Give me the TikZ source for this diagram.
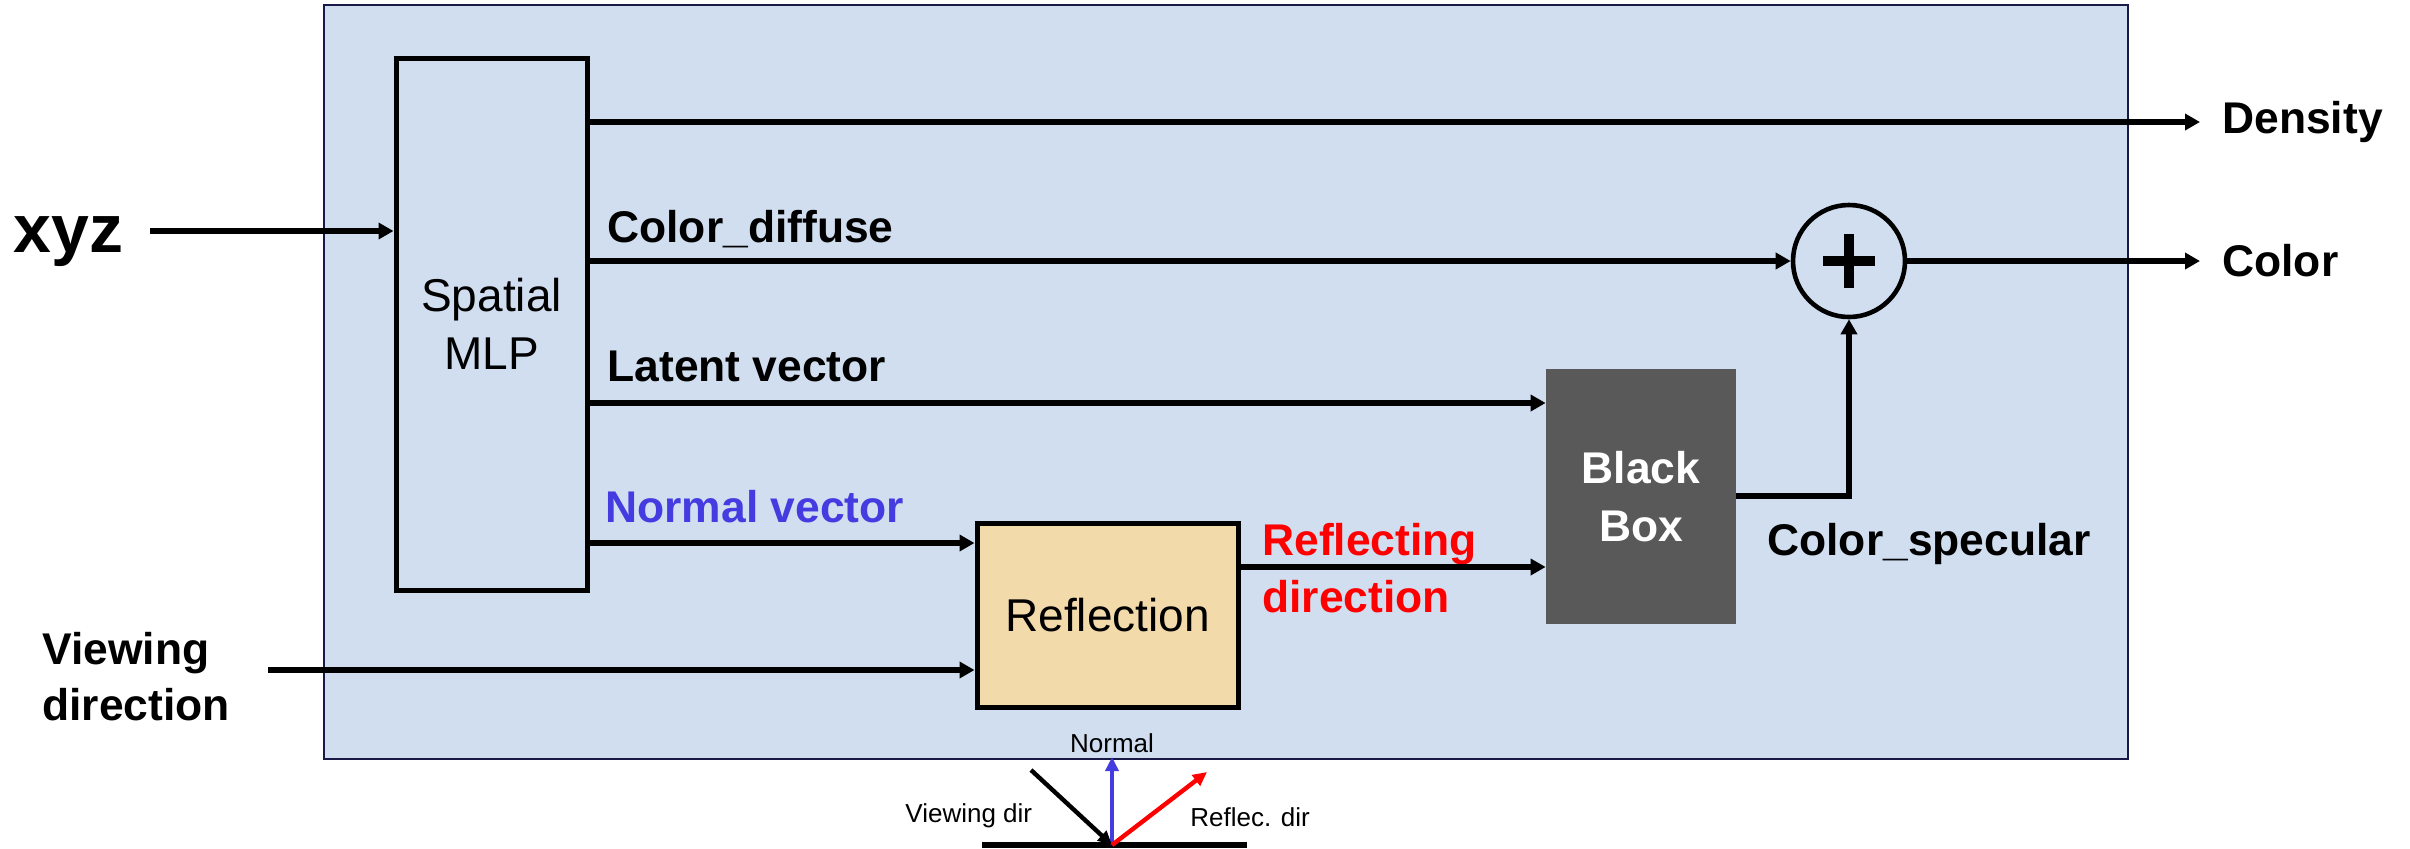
\documentclass[tikz,border=0pt]{standalone}
\usepackage{fontspec}
\setmainfont{Liberation Sans}
\usetikzlibrary{arrows.meta}

\definecolor{panelfill}{RGB}{208,222,240}
\definecolor{panelline}{RGB}{25,25,70}
\definecolor{normalblue}{RGB}{68,60,224}
\definecolor{reflfill}{RGB}{242,218,170}
\definecolor{boxgray}{RGB}{89,89,89}

\begin{document}
\begin{tikzpicture}[x=0.5pt,y=-0.5pt,
  conn/.style={line width=2.8pt,-{Triangle[length=7.5pt,width=8pt]}},
  insetarrow/.style={line width=2.2pt,-{Triangle[length=7pt,width=6.5pt]}},
  blockbox/.style={draw,line width=2.5pt,inner sep=0pt,align=center},
  biglabel/.style={font=\bfseries\fontsize{22.2}{28}\selectfont,inner sep=0pt,anchor=base west,align=left},
  smalllabel/.style={font=\fontsize{13}{15}\selectfont,inner sep=0pt},
]
\useasboundingbox (0,0) rectangle (2410,848);

% shaded panel holding the network
\node[draw=panelline,line width=1pt,fill=panelfill,minimum width=902pt,
      minimum height=377pt,inner sep=0pt,outer sep=0pt] (panel) at (1226,382) {};

% blocks
\node[blockbox,minimum width=95.5pt,minimum height=266pt,
      font=\fontsize{23}{29}\selectfont] (mlp) at (491.5,324) {Spatial\\MLP};
\node[blockbox,fill=reflfill,minimum width=130.5pt,minimum height=92pt,
      font=\fontsize{23}{29}\selectfont] (refl) at (1107.5,615) {Reflection};
\node[fill=boxgray,text=white,inner sep=0pt,align=center,minimum width=95pt,
      minimum height=127.5pt,font=\bfseries\fontsize{22.2}{29}\selectfont]
      (bb) at (1641,496.5) {Black\\Box};
\node[draw,circle,line width=2.3pt,minimum size=56pt,inner sep=0pt] (sum) at (1849,261) {};
\draw[line width=5pt] (sum.center) +(-26,0) -- +(26,0);
\draw[line width=5pt] (sum.center) +(0,-27) -- +(0,27);

% inputs and outputs (multi-line labels are placed by their last baseline)
\node[font=\bfseries\fontsize{34}{40}\selectfont,inner sep=0pt,anchor=base west] (xyz) at (13,252) {xyz};
\node[biglabel] (vdir) at (42,720) {Viewing\\direction};
\node[biglabel] (dens) at (2222,133) {Density};
\node[biglabel] (colout) at (2222,276) {Color};

% connector labels
\node[biglabel] (ldiff) at (607,242) {Color\_diffuse};
\node[biglabel] (llat) at (607,381) {Latent vector};
\node[biglabel,text=normalblue] (lnorm) at (605,522) {Normal vector};
\node[biglabel,text=red,font=\bfseries\fontsize{22.2}{28.5}\selectfont] (lrefl) at (1262,612) {Reflecting\\direction};
\node[biglabel] (lspec) at (1767,555) {Color\_specular};

% connector heights
\coordinate (xstart) at (150,231);
\coordinate (vstart) at (268,670);
\coordinate (yDen) at (0,122);
\coordinate (yLat) at (0,403);
\coordinate (yNor) at (0,543);
\coordinate (yRef) at (0,567);
\coordinate (yBB) at (0,496);

\draw[conn] (xstart) -- (mlp.west |- xstart);
\draw[conn] (vstart) -- (refl.west |- vstart);
\draw[conn,shorten >=11pt] (mlp.east |- yDen) -- (dens.west |- yDen);
\draw[conn] (mlp.east |- sum.west) -- (sum.west);
\draw[conn] (mlp.east |- yLat) -- (bb.west |- yLat);
\draw[conn] (mlp.east |- yNor) -- (refl.west |- yNor);
\draw[conn] (refl.east |- yRef) -- (bb.west |- yRef);
\draw[conn] (bb.east |- yBB) -| (sum.south);
\draw[conn,shorten >=11pt] (sum.east) -- (colout.west |- sum.east);

% small sketch of the reflection geometry
\coordinate (hit) at (1112,845);
\coordinate (gleft) at (982,845);
\coordinate (gright) at (1247,845);
\coordinate (ntip) at (1112,757);
\coordinate (vtail) at (1031,770);
\coordinate (rtip) at (1207,772);
\draw[line width=2.8pt] (gleft) -- (gright);
\draw[insetarrow,normalblue] (hit) -- (ntip);
\draw[insetarrow,black] (vtail) -- (hit);
\draw[insetarrow,red] (hit) -- (rtip);
\node[smalllabel,anchor=base] (tnorm) at (1112,752) {Normal};
\node[smalllabel,anchor=base west] (tview) at (905,822) {Viewing dir};
\node[smalllabel,anchor=base west] (trefl) at (1190,826) {Reflec. dir};
\end{tikzpicture}
\end{document}
